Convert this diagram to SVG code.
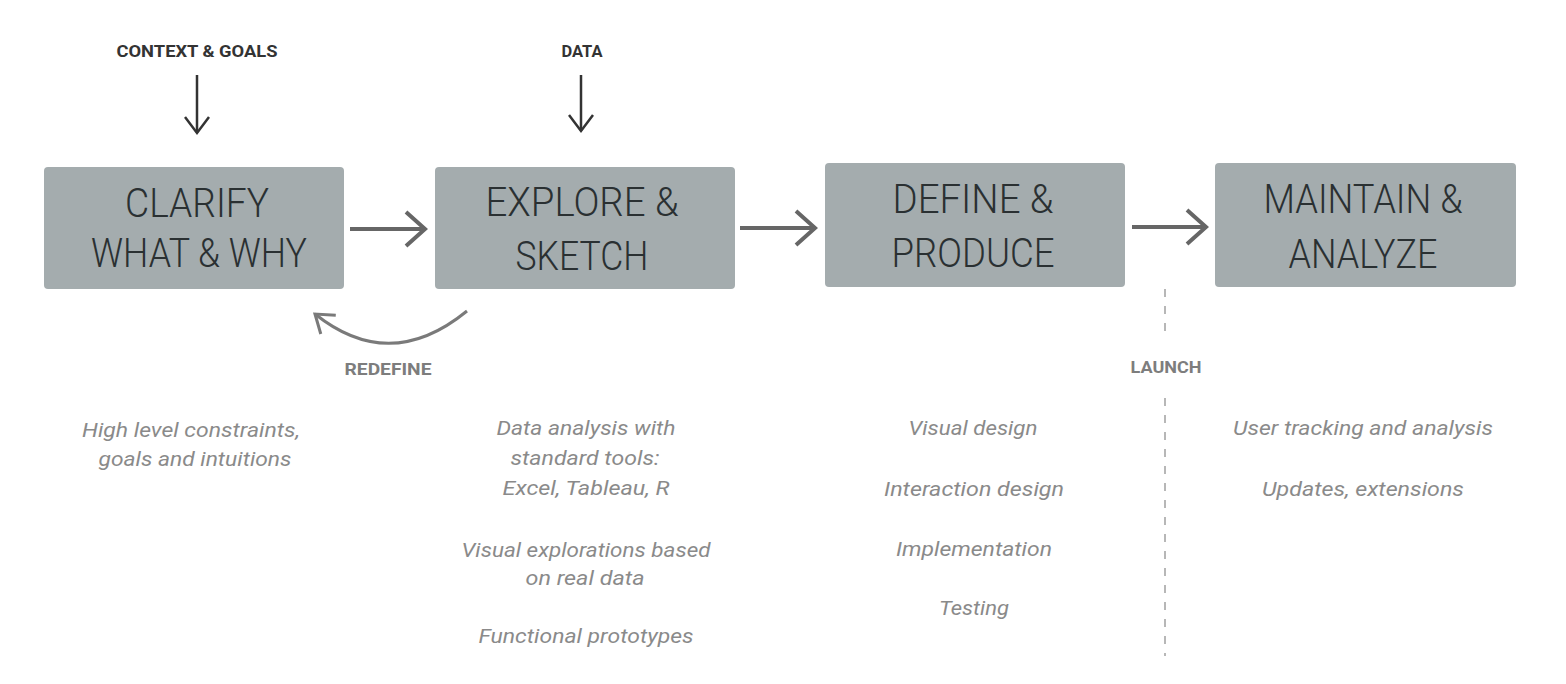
<svg xmlns="http://www.w3.org/2000/svg" width="1566" height="684" viewBox="0 0 1566 684">
<style>
.box{fill:#a4acae}
.title{font-family:Roboto,"Liberation Sans",sans-serif;font-weight:300;font-size:41px;fill:#2a3032;text-anchor:middle}
.lbl{font-family:Roboto,"Liberation Sans",sans-serif;font-weight:700;font-size:16px;text-anchor:middle}
.dark{fill:#333}
.mid{fill:#7d7d7d}
.desc{font-family:Roboto,"Liberation Sans",sans-serif;font-style:italic;font-weight:400;font-size:20px;fill:#8a8a8a;text-anchor:middle}
.conn{fill:none;stroke:#666;stroke-width:4}
.down{fill:none;stroke:#333;stroke-width:2.5}
.arc{fill:none;stroke:#7a7a7a;stroke-width:3}
.dash{fill:none;stroke:#a0a0a0;stroke-width:1.5;stroke-dasharray:8 9}
</style>
<defs>
<marker id="ah" viewBox="-24 -20 28 40" refX="0" refY="0" markerWidth="28" markerHeight="40" markerUnits="userSpaceOnUse" orient="auto">
<path d="M-19,-17 L0,0 L-19,17" fill="none" stroke="#666" stroke-width="4"/>
</marker>
<marker id="ahd" viewBox="-20 -16 24 32" refX="0" refY="0" markerWidth="24" markerHeight="32" markerUnits="userSpaceOnUse" orient="auto">
<path d="M-16,-12 L0,0 L-16,12" fill="none" stroke="#333" stroke-width="2.5"/>
</marker>
<marker id="ahr" viewBox="-22 -20 26 40" refX="0" refY="0" markerWidth="26" markerHeight="40" markerUnits="userSpaceOnUse" orient="auto">
<path d="M-17,-12 L0,0 L-17,12" fill="none" stroke="#7a7a7a" stroke-width="3"/>
</marker>
</defs>
<rect width="1566" height="684" fill="#ffffff"/>

<g id="connectors">
<line class="conn" x1="350" y1="229" x2="425" y2="229" marker-end="url(#ah)"/>
<line class="conn" x1="740" y1="228" x2="815" y2="228" marker-end="url(#ah)"/>
<line class="conn" x1="1132" y1="227" x2="1206" y2="227" marker-end="url(#ah)"/>
<line class="down" x1="197" y1="75" x2="197" y2="133" marker-end="url(#ahd)"/>
<line class="down" x1="581" y1="75" x2="581" y2="131" marker-end="url(#ahd)"/>
<path class="arc" d="M467,311 Q390,374 315,314" marker-end="url(#ahr)"/>
<line class="dash" x1="1165" y1="289" x2="1165" y2="340"/>
<line class="dash" x1="1165" y1="398" x2="1165" y2="656"/>
</g>

<g id="context-label">
<text class="lbl dark" x="197" y="57" textLength="161" lengthAdjust="spacingAndGlyphs">CONTEXT &amp; GOALS</text>
</g>
<g id="data-label">
<text class="lbl dark" x="582" y="57" textLength="41" lengthAdjust="spacingAndGlyphs">DATA</text>
</g>

<g id="clarify">
<rect class="box" x="44" y="167" width="300" height="122" rx="4"/>
<text class="title" x="197" y="217" textLength="144" lengthAdjust="spacingAndGlyphs">CLARIFY</text>
<text class="title" x="199" y="267" textLength="216" lengthAdjust="spacingAndGlyphs">WHAT &amp; WHY</text>
</g>
<g id="explore">
<rect class="box" x="435" y="167" width="300" height="122" rx="4"/>
<text class="title" x="582" y="216" textLength="193" lengthAdjust="spacingAndGlyphs">EXPLORE &amp;</text>
<text class="title" x="582" y="270" textLength="133" lengthAdjust="spacingAndGlyphs">SKETCH</text>
</g>
<g id="define">
<rect class="box" x="825" y="163" width="300" height="124" rx="4"/>
<text class="title" x="973" y="213" textLength="161" lengthAdjust="spacingAndGlyphs">DEFINE &amp;</text>
<text class="title" x="973" y="267" textLength="163" lengthAdjust="spacingAndGlyphs">PRODUCE</text>
</g>
<g id="maintain">
<rect class="box" x="1215" y="163" width="301" height="124" rx="4"/>
<text class="title" x="1363" y="213" textLength="199" lengthAdjust="spacingAndGlyphs">MAINTAIN &amp;</text>
<text class="title" x="1363" y="268" textLength="149" lengthAdjust="spacingAndGlyphs">ANALYZE</text>
</g>

<g id="redefine-label">
<text class="lbl mid" x="388" y="375" textLength="87" lengthAdjust="spacingAndGlyphs">REDEFINE</text>
</g>
<g id="launch-label">
<text class="lbl mid" x="1166" y="373" textLength="71" lengthAdjust="spacingAndGlyphs">LAUNCH</text>
</g>

<g id="notes-clarify">
<text class="desc" x="191" y="437" textLength="218" lengthAdjust="spacingAndGlyphs">High level constraints,</text>
<text class="desc" x="195" y="466" textLength="193" lengthAdjust="spacingAndGlyphs">goals and intuitions</text>
</g>
<g id="notes-explore">
<text class="desc" x="586" y="435" textLength="179" lengthAdjust="spacingAndGlyphs">Data analysis with</text>
<text class="desc" x="585" y="465" textLength="149" lengthAdjust="spacingAndGlyphs">standard tools:</text>
<text class="desc" x="586" y="495" textLength="167" lengthAdjust="spacingAndGlyphs">Excel, Tableau, R</text>
<text class="desc" x="586" y="557" textLength="249" lengthAdjust="spacingAndGlyphs">Visual explorations based</text>
<text class="desc" x="585" y="585" textLength="119" lengthAdjust="spacingAndGlyphs">on real data</text>
<text class="desc" x="586" y="643" textLength="215" lengthAdjust="spacingAndGlyphs">Functional prototypes</text>
</g>
<g id="notes-define">
<text class="desc" x="973" y="435" textLength="129" lengthAdjust="spacingAndGlyphs">Visual design</text>
<text class="desc" x="974" y="496" textLength="180" lengthAdjust="spacingAndGlyphs">Interaction design</text>
<text class="desc" x="974" y="556" textLength="156" lengthAdjust="spacingAndGlyphs">Implementation</text>
<text class="desc" x="974" y="615" textLength="70" lengthAdjust="spacingAndGlyphs">Testing</text>
</g>
<g id="notes-maintain">
<text class="desc" x="1363" y="435" textLength="260" lengthAdjust="spacingAndGlyphs">User tracking and analysis</text>
<text class="desc" x="1363" y="496" textLength="202" lengthAdjust="spacingAndGlyphs">Updates, extensions</text>
</g>
</svg>
